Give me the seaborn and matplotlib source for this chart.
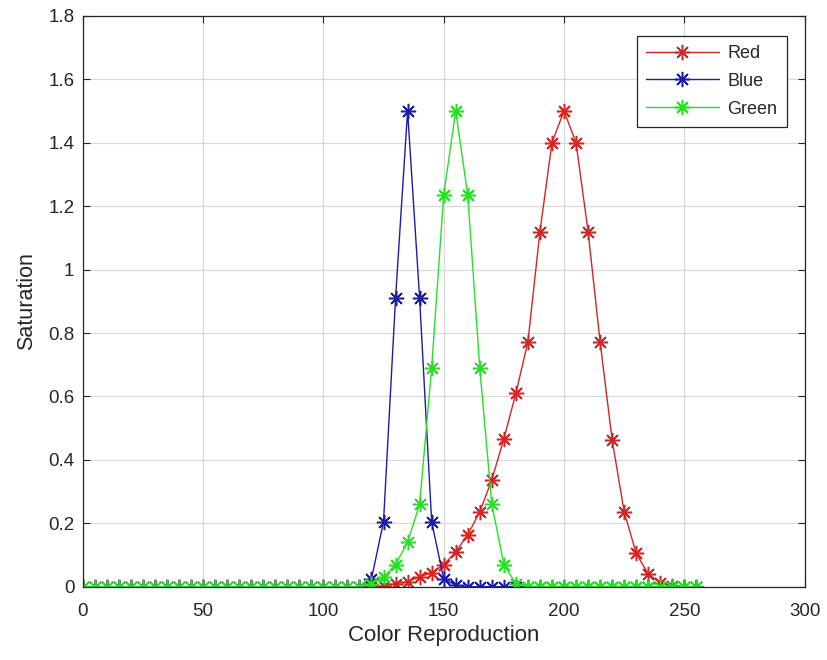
import numpy as np
import pandas as pd
import matplotlib
matplotlib.use("Agg")
import matplotlib.pyplot as plt
import seaborn as sns
from matplotlib.ticker import FormatStrFormatter

x = list(range(0, 260, 5))  # 0..255 step 5 (52 points)

red = [0]*25 + [0.003, 0.010, 0.016, 0.031, 0.044, 0.069, 0.110, 0.164, 0.236, 0.337,
                0.466, 0.610, 0.772, 1.120, 1.400, 1.500, 1.400, 1.120, 0.772, 0.463,
                0.236, 0.105, 0.040, 0.012, 0.003, 0.0, 0.0]
blue = [0]*24 + [0.025, 0.205, 0.910, 1.500, 0.910, 0.205, 0.025, 0.005] + [0]*20
green = [0]*24 + [0.010, 0.030, 0.070, 0.140, 0.260, 0.690, 1.235, 1.500, 1.235, 0.690,
                  0.260, 0.070, 0.010] + [0]*15

names = ["Red", "Blue", "Green"]
colors = ["#d42424", "#1c1ca8", "#26e026"]

df = pd.concat([
    pd.DataFrame({"x": x, "y": red, "series": "Red"}),
    pd.DataFrame({"x": x, "y": blue, "series": "Blue"}),
    pd.DataFrame({"x": x, "y": green, "series": "Green"}),
], ignore_index=True)

sns.set_style("white")
plt.rcParams["font.family"] = ["Liberation Sans", "DejaVu Sans"]

fig = plt.figure(figsize=(8.27, 6.6), dpi=100)
ax = fig.add_axes([0.100, 0.111, 0.873, 0.865])

asterisk = (8, 2, 0)
for name, c in zip(names, colors):
    sns.lineplot(data=df[df.series == name], x="x", y="y", ax=ax, color=c,
                 marker=asterisk, markersize=11, markeredgewidth=1.1, linewidth=1.0,
                 label=name, markeredgecolor=c, markerfacecolor=c)

ax.set_xlim(0, 300)
ax.set_ylim(0, 1.8)
ax.set_xticks(np.arange(0, 301, 50))
ax.set_yticks(np.arange(0, 1.81, 0.2))
ax.yaxis.set_major_formatter(FormatStrFormatter("%g"))
ax.grid(True, color="#d9d9d9", linewidth=0.9)
ax.set_axisbelow(True)
for s in ax.spines.values():
    s.set_visible(True)
    s.set_color("#262626")
    s.set_linewidth(0.9)
ax.tick_params(direction="in", length=5, width=0.8, labelsize=13.5, colors="#262626",
               top=True, right=True, bottom=True, left=True, pad=6)
ax.tick_params(axis="x", pad=12)
ax.set_xlabel("Color Reproduction", fontsize=16, color="#262626", labelpad=3)
ax.set_ylabel("Saturation", fontsize=15.5, color="#262626", labelpad=8)

leg = ax.legend(loc="upper right", bbox_to_anchor=(0.975, 0.965), borderaxespad=0,
                fontsize=13, frameon=True, fancybox=False, edgecolor="#262626",
                framealpha=1, handlelength=4.0, handletextpad=0.5, borderpad=0.5,
                labelspacing=0.6)
leg.get_frame().set_linewidth(0.9)

fig.savefig("out.png", dpi=100)
